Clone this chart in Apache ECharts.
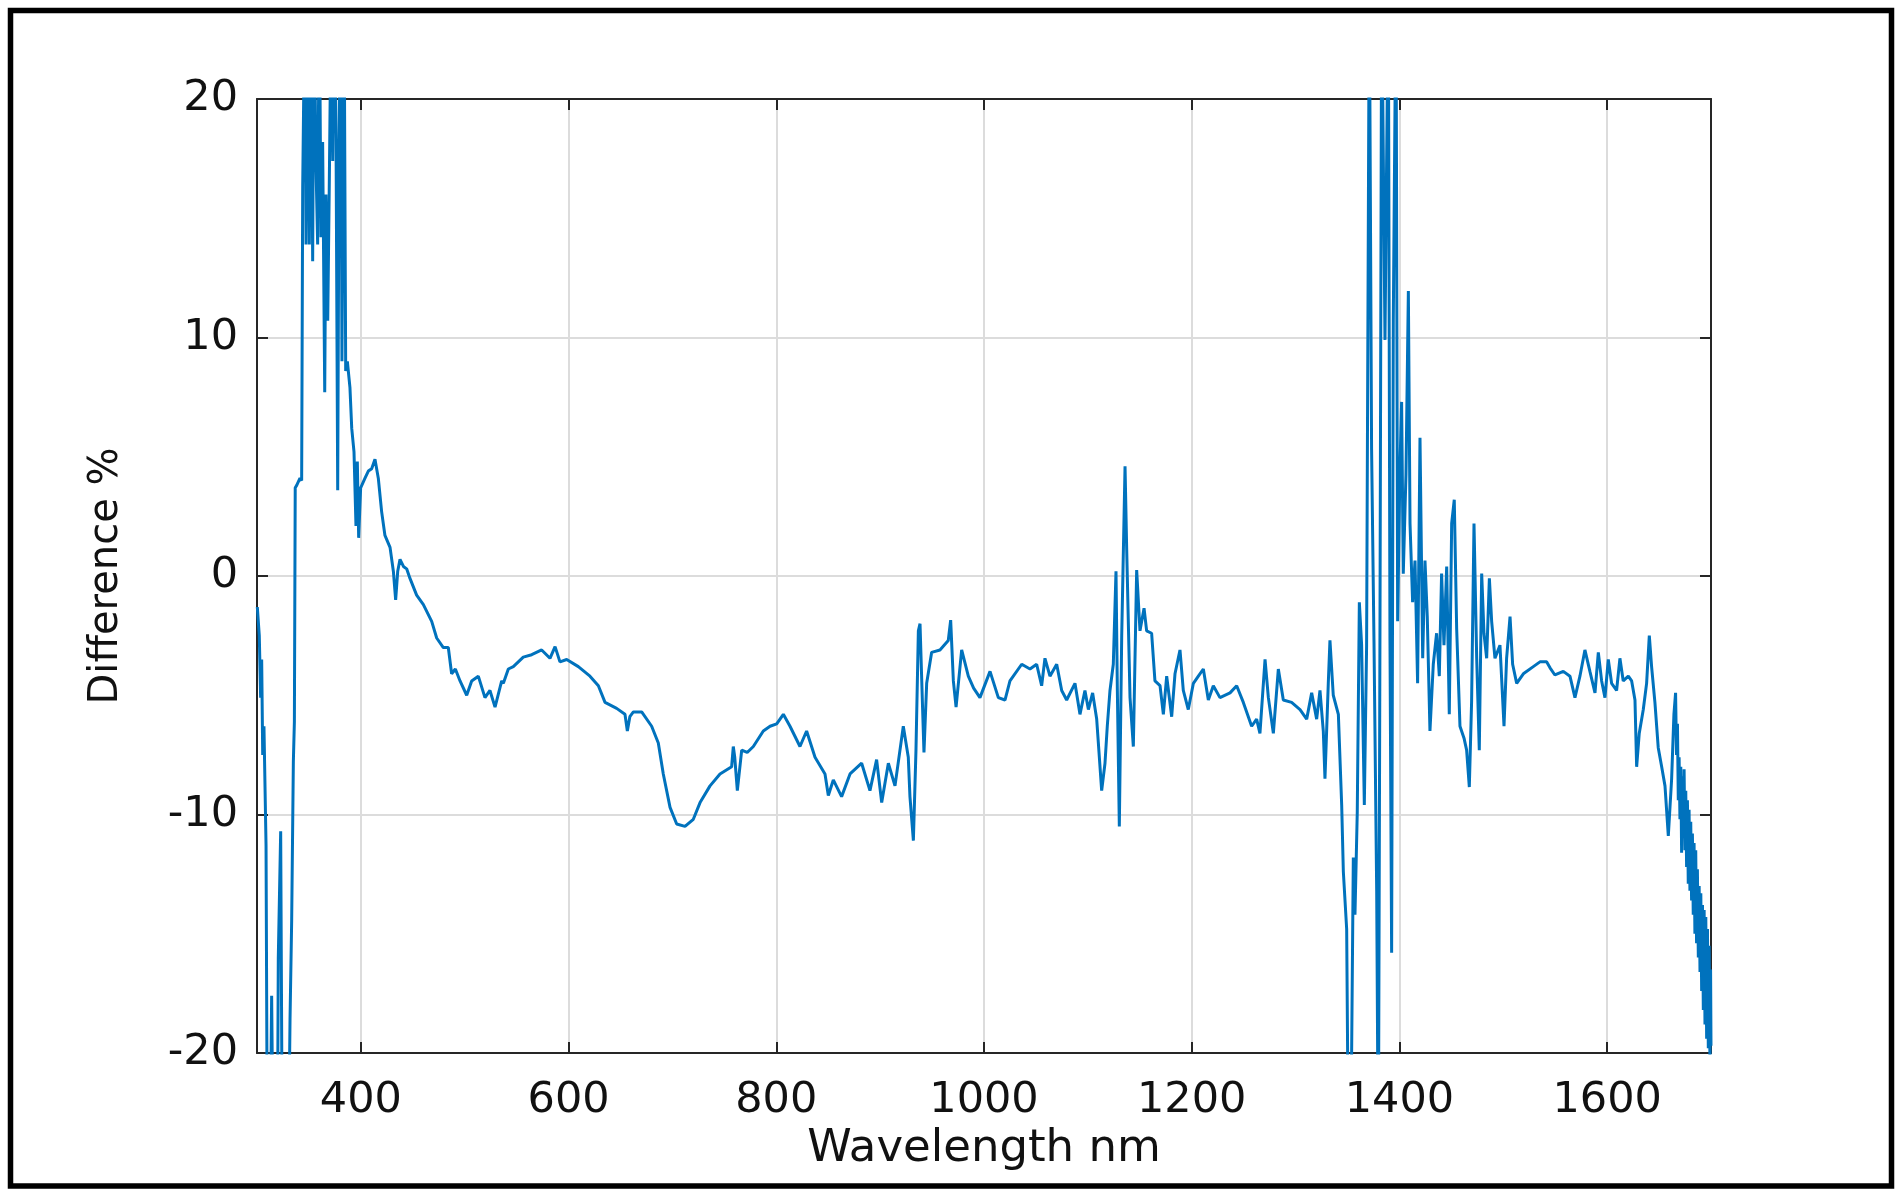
<!DOCTYPE html>
<html>
<head>
<meta charset="utf-8">
<script src="https://cdn.jsdelivr.net/npm/echarts@6/dist/echarts.min.js"></script>
<style>
html,body{margin:0;padding:0;background:#fff;}
#chart{width:1902px;height:1195px;}
</style>
</head>
<body>
<div id="chart"></div>
<script>
// Wavelength (nm)
const wavelength = [
300.3,302.2,303.5,304.5,305.5,306.7,308.7,310.0,312.5,314.1,315.7,319.6,320.5,322.8,324.4,330.2,331.8,333.4,335.0,336.0,336.8,338.2,341.4,343.0,
344.0,346.2,347.2,348.5,350.4,352.0,353.6,354.9,356.8,358.4,360.0,361.6,363.2,365.2,366.4,368.1,369.6,371.6,372.9,374.5,376.1,377.7,379.0,380.6,
381.8,383.8,385.4,387.0,389.5,391.2,393.4,395.3,396.6,397.9,399.8,404.0,407.2,410.4,413.6,416.8,420.0,423.2,428.1,431.3,433.5,435.5,437.7,441.0,
444.1,447.3,453.7,460.2,468.2,473.0,479.4,484.2,487.4,491.0,495.5,501.9,506.7,513.1,519.5,524.3,529.2,535.6,537.2,542.0,546.8,556.4,564.5,574.1,
582.1,587.0,591.7,598.2,609.4,620.6,628.7,635.1,646.3,654.3,656.6,659.0,662.4,670.4,680.0,686.4,691.2,697.7,704.1,712.1,720.1,726.6,736.2,745.8,
757.0,758.6,760.0,762.5,766.7,772.0,777.9,787.5,794.0,800.4,806.8,813.2,822.8,829.2,837.3,846.9,850.1,854.9,862.9,871.0,882.2,890.2,896.6,901.5,
907.9,914.3,922.3,927.1,928.7,932.0,934.5,936.8,938.4,940.9,942.2,944.8,949.6,957.6,965.6,967.9,970.5,973.1,978.5,984.9,990.0,996.1,1005.8,1013.8,
1020.2,1025.0,1036.3,1044.3,1050.7,1055.5,1058.7,1063.5,1070.0,1074.8,1079.6,1087.6,1092.4,1097.2,1100.5,1104.6,1108.5,1110.1,1113.3,1116.5,1118.7,1121.3,1124.5,1127.1,
1128.4,1130.3,1132.6,1135.8,1137.4,1140.6,1143.8,1147.0,1150.2,1154.1,1156.6,1161.4,1164.6,1169.5,1172.7,1175.9,1180.7,1183.9,1188.7,1191.9,1196.7,1201.6,1206.4,1211.2,
1216.0,1220.8,1227.2,1236.9,1243.3,1249.7,1257.7,1262.5,1265.7,1270.6,1273.8,1278.6,1283.4,1288.2,1296.2,1304.3,1310.7,1315.5,1320.3,1323.5,1326.7,1328.3,1331.5,1333.1,
1336.3,1341.2,1344.4,1346.0,1349.2,1351.0,1353.0,1355.6,1357.2,1359.4,1361.4,1363.6,1366.2,1368.4,1371.0,1373.2,1375.5,1378.1,1379.7,1381.3,1382.9,1386.1,1389.3,1390.9,
1392.5,1394.1,1396.7,1398.3,1400.5,1402.1,1403.7,1406.3,1408.6,1410.2,1412.7,1415.0,1417.5,1419.8,1422.4,1424.6,1426.8,1429.4,1432.6,1435.8,1438.4,1440.6,1442.9,1445.5,
1448.0,1450.3,1452.8,1455.1,1458.3,1462.2,1464.7,1467.3,1469.5,1471.8,1474.4,1476.9,1479.2,1481.4,1484.0,1486.6,1488.8,1492.0,1496.8,1500.7,1503.2,1506.5,1509.0,1512.9,
1519.3,1528.9,1535.3,1541.7,1545.0,1549.7,1557.8,1564.2,1569.0,1573.8,1578.6,1583.4,1588.3,1591.5,1594.7,1597.9,1601.1,1604.3,1609.1,1612.3,1615.5,1620.4,1623.6,1626.8,
1628.4,1630.9,1634.8,1638.0,1640.6,1642.8,1646.0,1649.2,1652.5,1655.7,1658.9,1662.1,1664.3,1665.9,1666.8,1667.7,1668.5,1669.3,1670.1,1670.9,1671.7,1672.5,1673.3,1674.1,
1674.9,1675.7,1676.5,1677.3,1678.1,1678.9,1679.7,1680.5,1681.3,1682.1,1682.9,1683.7,1684.5,1685.3,1686.1,1686.9,1687.8,1688.6,1689.4,1690.2,1691.0,1691.8,1692.6,1693.4,
1694.2,1695.0,1695.8,1696.6,1697.4,1698.2,1699.0,1699.6,1700.0
];
// Difference (%)
const difference = [
-1.3,-2.5,-5.1,-3.5,-7.5,-6.3,-11.3,-25,-25,-17.6,-25,-25,-16,-10.7,-25,-25,-18.6,-14.4,-7.8,-6.1,3.7,3.8,4.1,4.0,
16.3,25,13.9,25,13.9,25,13.2,25,17.2,13.9,25,14.2,18.2,7.7,16,10.7,16.4,25,17.4,25,18.4,3.6,18.2,25,
9,25,8.6,9,7.9,6.2,5.2,2.1,4.8,1.6,3.7,4.1,4.4,4.5,4.9,4.1,2.7,1.7,1.2,0.2,-1.0,0.2,0.7,0.4,
0.3,-0.1,-0.8,-1.2,-1.9,-2.6,-3.0,-3.0,-4.1,-3.9,-4.4,-5.0,-4.4,-4.2,-5.1,-4.8,-5.5,-4.4,-4.5,-3.9,-3.8,-3.4,-3.3,-3.1,
-3.45,-2.96,-3.6,-3.5,-3.8,-4.2,-4.6,-5.3,-5.55,-5.8,-6.5,-5.9,-5.7,-5.7,-6.3,-7.0,-8.3,-9.7,-10.4,-10.5,-10.2,-9.5,-8.8,-8.3,
-8.0,-7.15,-7.6,-9.0,-7.3,-7.4,-7.15,-6.5,-6.3,-6.2,-5.8,-6.3,-7.15,-6.5,-7.6,-8.3,-9.2,-8.55,-9.25,-8.3,-7.85,-9.0,-7.7,-9.5,
-7.85,-8.8,-6.3,-7.6,-9.25,-11.1,-7.3,-2.3,-2.0,-5.6,-7.4,-4.5,-3.2,-3.1,-2.7,-1.85,-4.4,-5.5,-3.1,-4.2,-4.7,-5.1,-4.0,-5.1,
-5.2,-4.4,-3.7,-3.9,-3.7,-4.6,-3.45,-4.2,-3.7,-4.8,-5.2,-4.5,-5.8,-4.8,-5.6,-4.9,-6.0,-7.0,-9.0,-7.85,-6.3,-4.8,-3.7,0.2,
-4.8,-10.5,-2.5,4.6,1.1,-5.1,-7.15,0.25,-2.3,-1.35,-2.3,-2.4,-4.4,-4.6,-5.8,-4.2,-5.9,-4.1,-3.1,-4.8,-5.6,-4.5,-4.2,-3.9,
-5.2,-4.6,-5.1,-4.9,-4.6,-5.3,-6.3,-6.0,-6.6,-3.5,-5.1,-6.6,-3.9,-5.2,-5.3,-5.6,-6.0,-4.9,-6.0,-4.8,-6.5,-8.5,-4.5,-2.7,
-5.0,-5.8,-9.6,-12.4,-14.8,-25,-25,-11.8,-14.2,-9.9,-1.1,-2.9,-9.6,-2.9,25,5.3,-2.7,-13.2,-25,-1.7,25,9.9,25,-2.7,
-15.8,10.7,25,-1.9,4.5,7.3,0.1,4.25,11.95,2.2,-1.1,0.65,-4.5,5.8,-3.45,0.65,-1.7,-6.5,-3.7,-2.4,-4.2,0.1,-2.9,0.4,
-5.8,2.2,3.2,-2.2,-6.3,-6.8,-7.3,-8.85,-5.25,2.2,-3.45,-7.3,0.1,-2.4,-3.45,-0.1,-1.9,-3.45,-2.9,-6.3,-3.45,-1.7,-3.7,-4.5,
-4.1,-3.8,-3.6,-3.6,-3.85,-4.15,-4.0,-4.2,-5.1,-4.2,-3.1,-4.0,-4.9,-3.2,-4.4,-5.1,-3.5,-4.5,-4.8,-3.45,-4.4,-4.2,-4.4,-5.2,
-8.0,-6.6,-5.6,-4.5,-2.5,-3.8,-5.3,-7.2,-8.0,-8.8,-10.9,-8.5,-5.8,-4.9,-7.5,-6.2,-9.4,-7.6,-10.2,-8.0,-11.6,-8.4,-11.0,-8.1,
-11.5,-9.0,-12.2,-9.4,-12.9,-9.8,-13.2,-10.3,-13.6,-10.8,-14.2,-11.2,-15.0,-11.5,-15.4,-12.3,-16.0,-13.0,-16.6,-13.3,-17.4,-13.8,-18.2,-14.0,
-18.8,-14.3,-19.4,-14.8,-19.8,-15.5,-20.5,-16.5,-19.7
];
const xTicks = [400, 600, 800, 1000, 1200, 1400, 1600];
const yTicks = [-20, -10, 0, 10, 20];

const seriesData = wavelength.map((w, i) => [w, difference[i]]);

const chart = echarts.init(document.getElementById('chart'), null, {renderer: 'canvas'});
const axisColor = '#262626';
const font = 'DejaVu Sans';
chart.setOption({
  animation: false,
  backgroundColor: '#ffffff',
  grid: {left: 257, top: 99, right: 191, bottom: 142, containLabel: false},
  xAxis: [{
    type: 'value', min: 300, max: 1700, position: 'bottom',
    name: 'Wavelength nm', nameLocation: 'middle', nameGap: 72,
    nameTextStyle: {fontFamily: font, fontSize: 45, color: '#111'},
    axisLine: {show: true, onZero: false, lineStyle: {color: axisColor, width: 2}},
    axisTick: {show: true, inside: true, length: 11, customValues: xTicks, lineStyle: {color: axisColor, width: 2}},
    axisLabel: {show: true, customValues: xTicks, margin: 26, fontFamily: font, fontSize: 43, color: '#111',
      formatter: v => String(v)},
    splitLine: {show: true, lineStyle: {color: '#dcdcdc', width: 2}}
  }, {
    type: 'value', min: 300, max: 1700, position: 'top',
    axisLine: {show: true, onZero: false, lineStyle: {color: axisColor, width: 2}},
    axisTick: {show: true, inside: true, length: 11, customValues: xTicks, lineStyle: {color: axisColor, width: 2}},
    axisLabel: {show: false},
    splitLine: {show: false}
  }],
  yAxis: [{
    type: 'value', min: -20, max: 20, interval: 10, position: 'left',
    name: 'Difference %', nameLocation: 'middle', nameGap: 130, nameRotate: 90,
    nameTextStyle: {fontFamily: font, fontSize: 40, color: '#111'},
    axisLine: {show: true, onZero: false, lineStyle: {color: axisColor, width: 2}},
    axisTick: {show: true, inside: true, length: 11, lineStyle: {color: axisColor, width: 2}},
    axisLabel: {show: true, margin: 19, fontFamily: font, fontSize: 43, color: '#111',
      formatter: v => String(v)},
    splitLine: {show: true, lineStyle: {color: '#dcdcdc', width: 2}}
  }, {
    type: 'value', min: -20, max: 20, interval: 10, position: 'right',
    axisLine: {show: true, onZero: false, lineStyle: {color: axisColor, width: 2}},
    axisTick: {show: true, inside: true, length: 11, lineStyle: {color: axisColor, width: 2}},
    axisLabel: {show: false},
    splitLine: {show: false}
  }],
  series: [{
    type: 'line', xAxisIndex: 0, yAxisIndex: 0,
    data: seriesData, showSymbol: false, symbol: 'none', clip: true,
    lineStyle: {color: '#0072BD', width: 3},
    z: 3
  }],
  graphic: [{
    type: 'rect', silent: true,
    shape: {x: 10.5, y: 10.5, width: 1881, height: 1175.5},
    style: {fill: 'none', stroke: '#000', lineWidth: 5.5}
  }]
});
</script>
</body>
</html>
